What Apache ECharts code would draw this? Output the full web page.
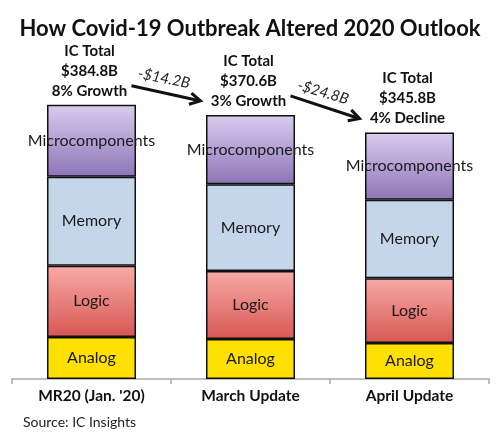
<!DOCTYPE html>
<html>
<head>
<meta charset="utf-8">
<script src="https://cdn.jsdelivr.net/npm/echarts@6/dist/echarts.min.js"></script>
<style>html,body{margin:0;padding:0;background:#fff}#c{width:500px;height:434px}</style>
</head>
<body>
<div id="c"></div>
<script>
var categories = ["MR20 (Jan. '20)", "March Update", "April Update"];
var analog = [59, 56, 50.5];
var logic = [100, 95.5, 91];
var memory = [125, 122, 110];
var micro = [100.8, 97.1, 94.3];
var totals = ["$384.8B", "$370.6B", "$345.8B"];
var growth = ["8% Growth", "3% Growth", "4% Decline"];
var changes = ["-$14.2B", "-$24.8B"];
var seriesNames = ["Analog", "Logic", "Memory", "Microcomponents"];

var FONT = 'Lato';
var chart = echarts.init(document.getElementById('c'), null, {renderer: 'canvas'});

function grad(top, bottom) {
  return new echarts.graphic.LinearGradient(0, 0, 0, 1, [
    {offset: 0, color: top}, {offset: 1, color: bottom}
  ]);
}

var fills = [
  '#ffe000',
  grad('#f7aaa7', '#d85753'),
  '#c6d6ea',
  grad('#dacbef', '#8d75b7')
];
var datas = [analog, logic, memory, micro];

var series = seriesNames.map(function (name, i) {
  return {
    name: name,
    type: 'bar',
    stack: 'ic',
    barWidth: 89,
    data: datas[i],
    itemStyle: {color: fills[i], borderColor: '#111', borderWidth: 1.5},
    label: {
      show: true,
      position: 'inside',
      formatter: name,
      fontFamily: FONT,
      fontSize: 16,
      color: '#1a1a1a'
    },
    emphasis: {disabled: true}
  };
});

series.push({
  name: 'totalLabel',
  type: 'bar',
  stack: 'ic',
  barWidth: 89,
  data: [0, 0, 0],
  itemStyle: {color: 'transparent'},
  label: {
    show: true,
    position: 'top',
    distance: 4,
    offset: [-2, 0],
    formatter: function (p) {
      return 'IC Total\n' + totals[p.dataIndex] + '\n' + growth[p.dataIndex];
    },
    fontFamily: FONT,
    fontWeight: 'bold',
    fontSize: 15,
    lineHeight: 20,
    color: '#111',
    align: 'center'
  },
  emphasis: {disabled: true}
});

chart.setOption({
  animation: false,
  backgroundColor: '#fff',
  title: {
    text: 'How Covid-19 Outbreak Altered 2020 Outlook',
    left: 'center',
    top: 13,
    textStyle: {fontFamily: FONT, fontWeight: 'bold', fontSize: 22, color: '#111'}
  },
  grid: {left: 12, right: 11, top: 94, bottom: 55, containLabel: false},
  xAxis: {
    type: 'category',
    data: categories,
    axisLine: {show: true, lineStyle: {color: '#aaa', width: 1.5}},
    axisTick: {show: true, inside: false, length: 5, lineStyle: {color: '#aaa', width: 1.5}},
    axisLabel: {fontFamily: FONT, fontWeight: 'bold', fontSize: 15.5, color: '#111', margin: 9}
  },
  yAxis: {type: 'value', min: 0, max: 400, show: false},
  series: series
});

var tops = categories.map(function (c, i) {
  var t = analog[i] + logic[i] + memory[i] + micro[i];
  return chart.convertToPixel({xAxisIndex: 0, yAxisIndex: 0}, [i, t]);
});
var g = [{
  type: 'text', left: 23, top: 415,
  style: {text: 'Source: IC Insights', font: '14px ' + FONT, fill: '#222'}
}];
for (var k = 0; k < 2; k++) {
  var a = tops[k], b = tops[k + 1];
  var x1 = a[0] + 40, y1 = a[1] - 19;
  var x2 = b[0] - 50, y2 = b[1] - 14;
  var ang = Math.atan2(y2 - y1, x2 - x1);
  var hl = 12, ha = 0.5;
  g.push({
    type: 'line',
    shape: {x1: x1, y1: y1, x2: x2 - 2 * Math.cos(ang), y2: y2 - 2 * Math.sin(ang)},
    style: {stroke: '#111', lineWidth: 3}
  });
  g.push({
    type: 'polyline',
    shape: {points: [
      [x2 - hl * Math.cos(ang - ha), y2 - hl * Math.sin(ang - ha)],
      [x2, y2],
      [x2 - hl * Math.cos(ang + ha), y2 - hl * Math.sin(ang + ha)]
    ]},
    style: {stroke: '#111', lineWidth: 3, fill: null, lineJoin: 'miter'}
  });
  var mx = (x1 + x2) / 2, my = (y1 + y2) / 2;
  g.push({
    type: 'text',
    x: mx - 2, y: my - 15,
    rotation: -ang * 0.9,
    style: {text: changes[k], font: 'italic 15px ' + FONT, fill: '#222', align: 'center', verticalAlign: 'middle'}
  });
}
chart.setOption({graphic: g}, {replaceMerge: ['graphic']});
</script>
</body>
</html>
